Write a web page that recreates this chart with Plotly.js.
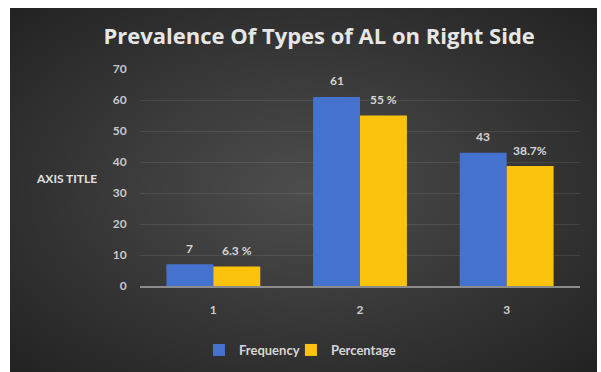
<!DOCTYPE html>
<html>
<head>
<meta charset="utf-8">
<script src="https://cdn.plot.ly/plotly-3.0.1.min.js"></script>
<style>
  html, body { margin: 0; padding: 0; background: #ffffff; }
  #wrap { position: relative; width: 601px; height: 372px; overflow: hidden; }
  #bg { position: absolute; left: 10px; top: 8px; width: 587px; height: 364px;
        background: radial-gradient(ellipse at 50% 50%, #4d4d4d 0%, #3a3a3a 45%, #222222 100%); }
  #chart { position: absolute; left: 0; top: 0; width: 601px; height: 372px; }
</style>
</head>
<body>
<div id="wrap">
  <div id="bg"></div>
  <div id="chart"></div>
</div>
<script>
const categories = ['1', '2', '3'];
const frequency = [7, 61, 43];
const percentage = [6.3, 55, 38.7];
const frequencyLabels = ['7', '61', '43'];
const percentageLabels = ['6.3 %', '55 %', '38.7%'];
const yTicks = [0, 10, 20, 30, 40, 50, 60, 70];

const FONT = 'Lato, "Open Sans", sans-serif';
const BARGAP = 0.36;
const half = (1 - BARGAP) / 4; // offset of each bar centre in a group of two

const traces = [
  { type: 'bar', name: 'Frequency', x: categories, y: frequency, marker: { color: '#4672cf' }, legend: 'legend' },
  { type: 'bar', name: 'Percentage', x: categories, y: percentage, marker: { color: '#fcc30c' }, legend: 'legend2' }
];

const labelFont = { family: FONT, size: 12, color: '#d6d6d6', weight: 'bold' };
const annotations = [];
categories.forEach((c, i) => {
  annotations.push({ xref: 'x', yref: 'y', x: i - half, y: frequency[i], text: frequencyLabels[i],
    showarrow: false, yanchor: 'middle', yshift: 16, font: labelFont });
  annotations.push({ xref: 'x', yref: 'y', x: i + half, y: percentage[i], text: percentageLabels[i],
    showarrow: false, yanchor: 'middle', yshift: 16, font: labelFont });
});
annotations.push({
  text: 'AXIS TITLE', xref: 'paper', yref: 'paper', x: -0.168, y: (286 - 178) / 217,
  xanchor: 'center', yanchor: 'middle', showarrow: false,
  font: { family: FONT, size: 12, color: '#e0e0e0', weight: 'bold' }
});

const legendBase = {
  orientation: 'h', y: 1 - 350 / 372, yref: 'container', yanchor: 'middle', xanchor: 'left',
  font: { family: FONT, size: 13, color: '#d6d6d6', weight: 'bold' },
  itemwidth: 30, bgcolor: 'rgba(0,0,0,0)'
};

const layout = {
  width: 601, height: 372,
  paper_bgcolor: 'rgba(0,0,0,0)',
  plot_bgcolor: 'rgba(0,0,0,0)',
  margin: { l: 140, r: 21, t: 69, b: 86, autoexpand: false },
  barmode: 'group', bargap: BARGAP, bargroupgap: 0,
  showlegend: true,
  title: {
    text: 'Prevalence Of Types of AL on Right Side',
    font: { family: '"Open Sans", Lato, sans-serif', size: 22, color: '#e6e6e6', weight: 'bold' },
    x: 0.531, xanchor: 'center', y: 0.903, yanchor: 'middle', yref: 'container'
  },
  xaxis: {
    type: 'category', showgrid: false, zeroline: false,
    showline: true, linecolor: '#8c8c8c', linewidth: 1.5,
    ticks: 'outside', ticklen: 12, tickcolor: 'rgba(0,0,0,0)',
    tickfont: { family: FONT, size: 12, color: '#cfcfcf', weight: 'bold' }
  },
  yaxis: {
    range: [0, 70], tickvals: yTicks, ticktext: yTicks.map(String),
    showgrid: true, gridcolor: 'rgba(255,255,255,0.09)', gridwidth: 1,
    zeroline: false, showline: false,
    ticks: 'outside', ticklen: 10, tickcolor: 'rgba(0,0,0,0)',
    tickfont: { family: FONT, size: 12, color: '#c8c8c8', weight: 'bold' }
  },
  legend: Object.assign({}, legendBase, { x: 0.134 }),
  legend2: Object.assign({}, legendBase, { x: 0.343 }),
  annotations: annotations
};

Plotly.newPlot('chart', traces, layout, { displayModeBar: false, responsive: false });
</script>
</body>
</html>
